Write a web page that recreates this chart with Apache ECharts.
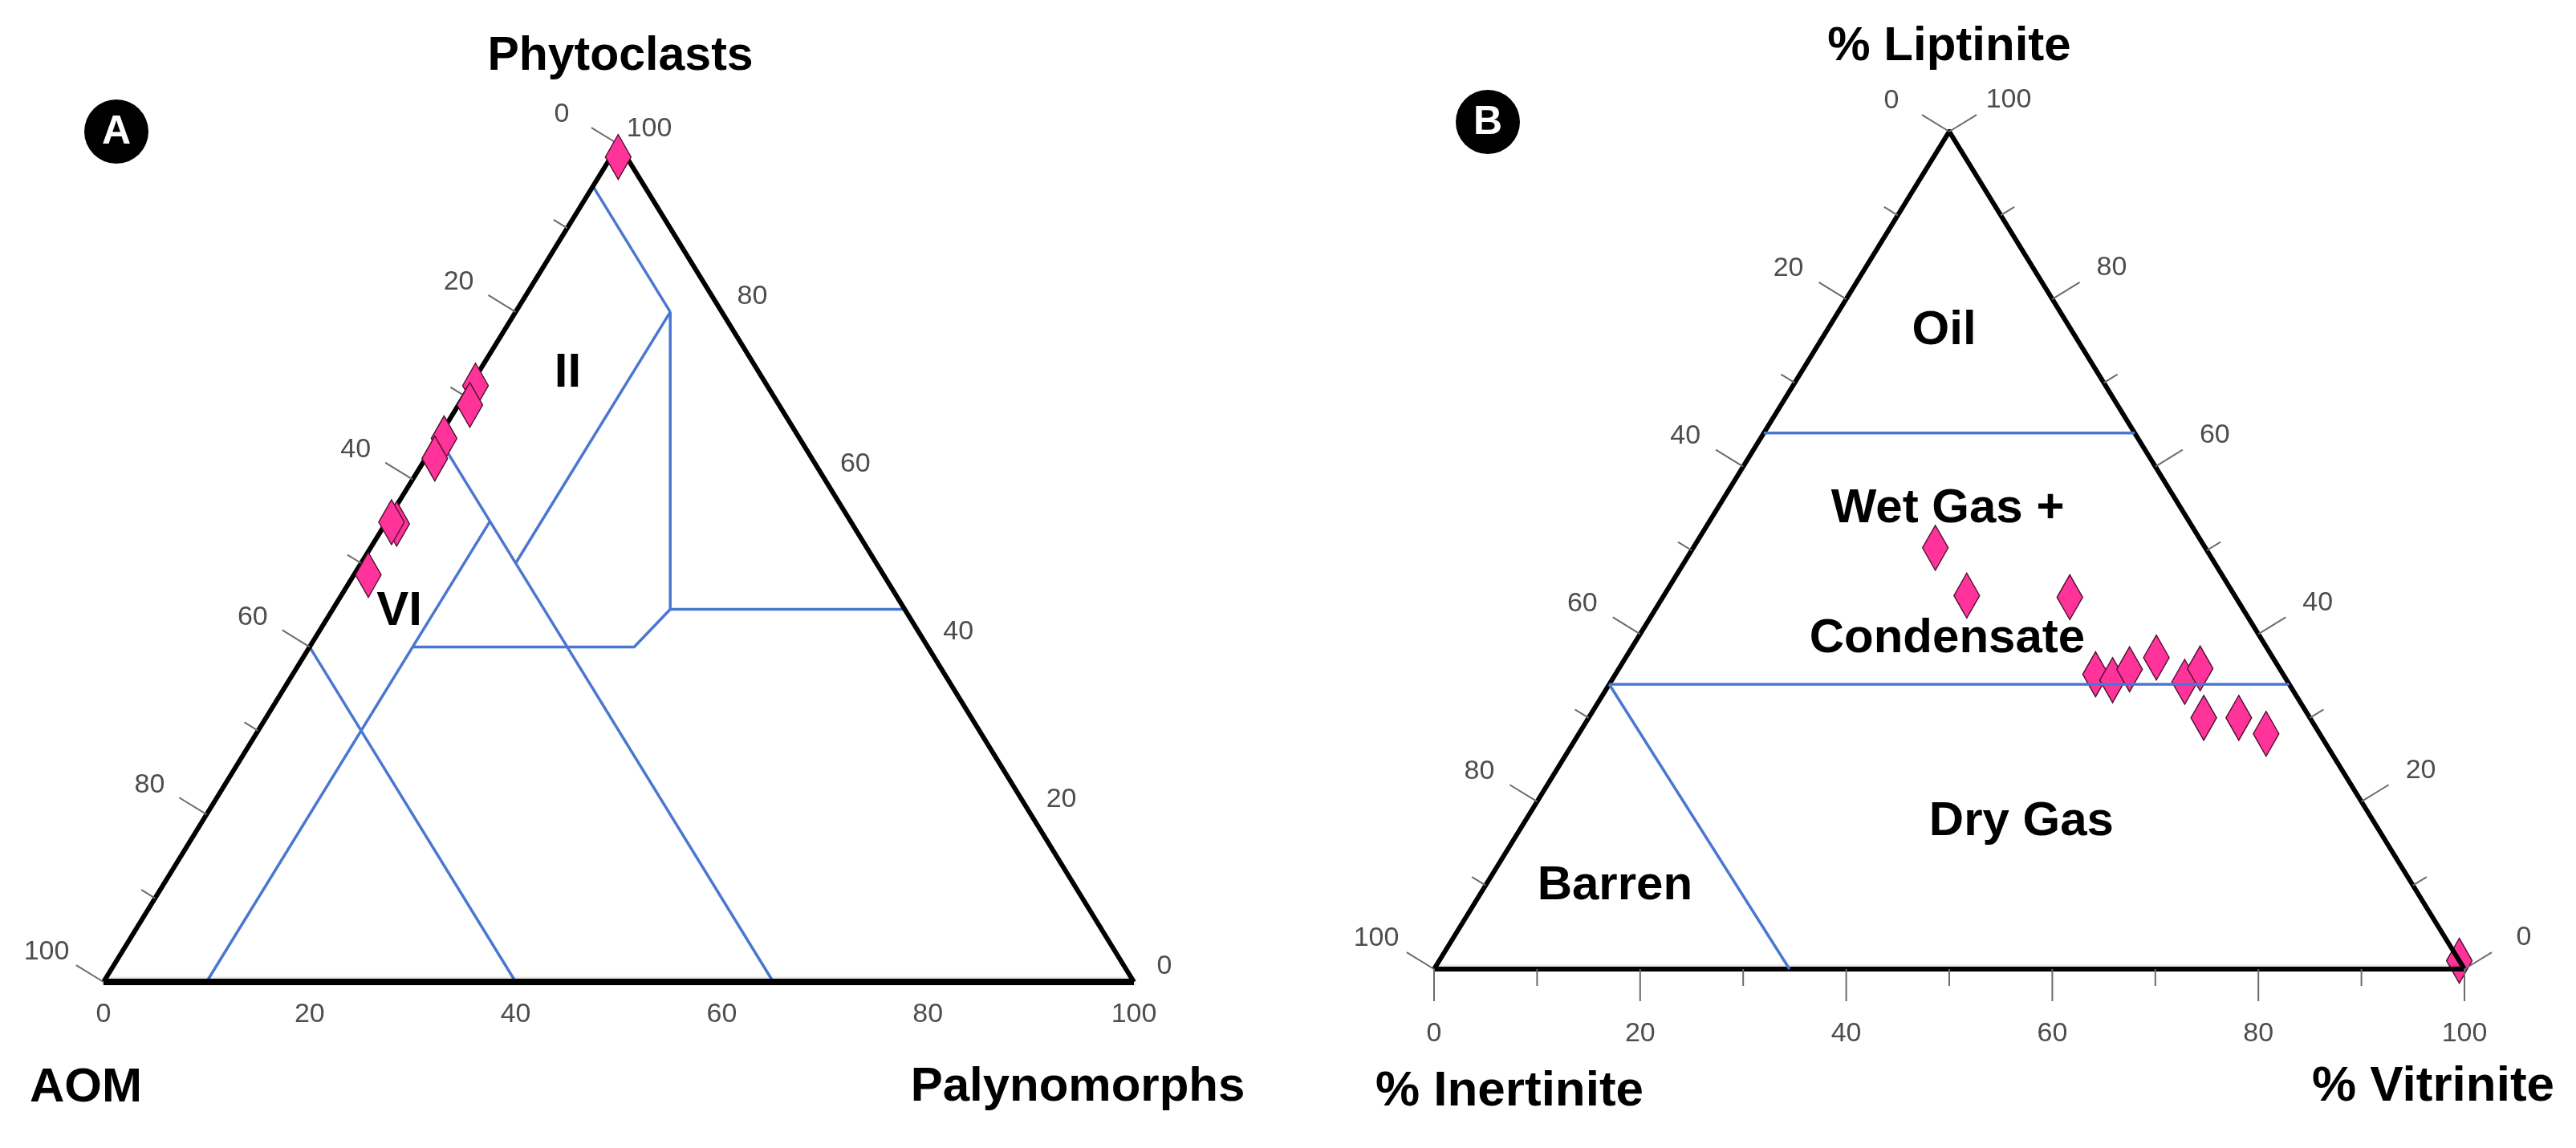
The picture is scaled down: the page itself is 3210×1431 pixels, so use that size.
<!DOCTYPE html>
<html><head><meta charset="utf-8">
<script src="https://cdn.jsdelivr.net/npm/echarts@6/dist/echarts.min.js"></script>
<style>html,body{margin:0;padding:0;background:#fff}#c{width:3210px;height:1431px}</style>
</head><body><div id="c"></div><script>
// ---------------- DATA ----------------
// Chart A : AOM (bottom-left) – Phytoclasts (apex) – Palynomorphs (bottom-right), %
const aomA          = [0.8, 28.3, 30.0, 34.5, 36.6, 44.2, 44.6, 50.0];
const phytoclastsA  = [98.5, 71.2, 68.9, 64.9, 62.5, 54.7, 54.9, 48.6];
const palynomorphsA = [0.7, 0.5, 1.1, 0.6, 0.9, 1.1, 0.5, 1.4];

// Chart B : Inertinite (bottom-left) – Liptinite (apex) – Vitrinite (bottom-right), %
const inertiniteB = [26.2, 26.0, 16.1, 18.2, 16.9, 14.6, 11.3, 10.0, 7.7, 10.3, 6.9, 5.2, 0.0];
const liptiniteB  = [50.3, 44.6, 44.4, 35.2, 34.5, 35.8, 37.2, 34.3, 35.9, 30.0, 30.0, 28.1, 1.0];
const vitriniteB  = [23.5, 29.4, 39.5, 46.6, 48.6, 49.6, 51.5, 55.7, 56.4, 59.7, 63.1, 66.7, 99.0];

// Axis ticks / labels
const majorTicks = [0, 20, 40, 60, 80, 100];
const minorTicks = [10, 30, 50, 70, 90];
const tickLabels = ['0', '20', '40', '60', '80', '100'];

// Field boundaries, chart A: polylines of [phytoclasts, palynomorphs]
const boundariesA = [
  [[95, 0], [80, 15]],
  [[80, 15], [44.5, 32.75]],
  [[44.5, 32.75], [44.5, 55.5]],
  [[44.5, 32.75], [40, 31.5], [40, 10]],
  [[80, 15], [50, 15]],
  [[0, 10], [55, 10]],
  [[65, 0], [0, 65]],
  [[40, 0], [0, 40]]
];
// Field boundaries, chart B: polylines of [liptinite, vitrinite]
const boundariesB = [
  [[64, 0], [64, 36]],
  [[34, 0], [34, 66]],
  [[34, 0], [0, 34.5]]
];

// Field names
const fieldNamesA = ['II', 'VI'];
const fieldPhytoA = [72.7, 44.2];
const fieldPalyA  = [8.7, 6.6];
const fieldNamesB = ['Oil', 'Wet Gas +', 'Condensate', 'Dry Gas', 'Barren'];
const fieldLiptB  = [76.2, 54.9, 39.4, 17.6, 9.9];
const fieldVitrB  = [11.4, 22.4, 30.1, 48.2, 12.6];

// ---------------- HELPERS ----------------
// ternary (apex %, right-corner %) -> cartesian (x % of base, y % of height)
function tern(apex, right) { return [right + apex / 2, apex]; }

const BLUE = '#4a77cf';
const PINK = '#ff3399';
const TICK = '#6b6b6b';
const LBL = '#4d4d4d';
const LBL_FONT = '34px "Liberation Sans", Arial, sans-serif';

function axisData(sides) {
  const d = [];
  sides.forEach((s, i) => {
    majorTicks.forEach(v => d.push([v, i, 1]));
    if (s.ticks) minorTicks.forEach(v => d.push([v, i, 0]));
  });
  return d;
}

function axisSeries(gridIdx, sides) {
  return {
    type: 'custom', coordinateSystem: 'cartesian2d',
    xAxisIndex: gridIdx, yAxisIndex: gridIdx, silent: true, z: 5,
    data: axisData(sides),
    renderItem: function (params, api) {
      const v = api.value(0), side = api.value(1), major = api.value(2) === 1;
      const s = sides[side];
      let p;
      if (side === 0) p = api.coord([(100 - v) / 2, 100 - v]);
      else if (side === 1) p = api.coord([100 - v / 2, v]);
      else p = api.coord([v, 0]);
      const bl = api.coord([0, 0]), ap = api.coord([50, 100]), br = api.coord([100, 0]);
      let n;
      if (side === 0) { const dx = ap[0] - bl[0], dy = ap[1] - bl[1], L = Math.hypot(dx, dy); n = [dy / L, -dx / L]; }
      else if (side === 1) { const dx = br[0] - ap[0], dy = br[1] - ap[1], L = Math.hypot(dx, dy); n = [dy / L, -dx / L]; }
      else n = [0, 1];
      const children = [];
      if (s.ticks) {
        const len = major ? s.major : s.minor;
        children.push({ type: 'line', shape: { x1: p[0], y1: p[1], x2: p[0] + n[0] * len, y2: p[1] + n[1] * len },
          style: { stroke: TICK, lineWidth: 2 } });
      }
      if (major) {
        children.push({ type: 'text', x: p[0] + s.dx, y: p[1] + s.dy,
          style: { text: tickLabels[majorTicks.indexOf(v)], font: LBL_FONT, fill: LBL,
                   align: 'center', verticalAlign: 'middle', textAlign: 'center', textVerticalAlign: 'middle' } });
      }
      return { type: 'group', children: children };
    }
  };
}

function fieldSeries(gridIdx, names, apexArr, rightArr) {
  return {
    type: 'custom', coordinateSystem: 'cartesian2d',
    xAxisIndex: gridIdx, yAxisIndex: gridIdx, silent: true, z: 6,
    data: names.map((n, i) => tern(apexArr[i], rightArr[i])),
    renderItem: function (params, api) {
      const p = api.coord([api.value(0), api.value(1)]);
      return { type: 'text', x: p[0], y: p[1],
        style: { text: names[params.dataIndex], font: 'bold 60px "Liberation Sans", Arial, sans-serif', fill: '#000',
                 align: 'center', verticalAlign: 'middle', textAlign: 'center', textVerticalAlign: 'middle' } };
    }
  };
}

function edgesSeries(gridIdx, bottomWidth) {
  return [{
    type: 'lines', coordinateSystem: 'cartesian2d', xAxisIndex: gridIdx, yAxisIndex: gridIdx,
    polyline: true, silent: true, z: 4,
    lineStyle: { color: '#000', width: 6, opacity: 1 },
    data: [{ coords: [[0, 0], [50, 100], [100, 0]] }]
  }, {
    type: 'lines', coordinateSystem: 'cartesian2d', xAxisIndex: gridIdx, yAxisIndex: gridIdx,
    polyline: true, silent: true, z: 4,
    lineStyle: { color: '#000', width: bottomWidth, opacity: 1, shadowColor: 'rgba(0,0,0,0.35)', shadowBlur: 4 },
    data: [{ coords: [[0, 0], [100, 0]] }]
  }];
}

function boundarySeries(gridIdx, bounds, z) {
  return {
    type: 'lines', coordinateSystem: 'cartesian2d', xAxisIndex: gridIdx, yAxisIndex: gridIdx,
    polyline: true, silent: true, z: z,
    lineStyle: { color: BLUE, width: 3.5, opacity: 1 },
    data: bounds.map(b => ({ coords: b.map(pt => tern(pt[0], pt[1])) }))
  };
}

// ---------------- OPTION ----------------
const chart = echarts.init(document.getElementById('c'), null, { renderer: 'canvas' });

const axisHidden = { type: 'value', min: 0, max: 100, show: false };

const sidesA = [
  { ticks: true, major: 40, minor: 20, dx: -71, dy: -37 },   // AOM (left)
  { ticks: false, dx: 38, dy: -19 },                          // Phytoclasts (right)
  { ticks: false, dx: 0, dy: 41 }                             // Palynomorphs (bottom)
];
const sidesB = [
  { ticks: true, major: 40, minor: 20, dx: -72, dy: -38 },   // Inertinite (left)
  { ticks: true, major: 40, minor: 20, dx: 74, dy: -39 },    // Liptinite (right)
  { ticks: true, major: 40, minor: 21, dx: 0, dy: 81 }       // Vitrinite (bottom)
];

const titleFont = 'bold 60px "Liberation Sans", Arial, sans-serif';
function gText(x, y, text, font, fill) {
  return { type: 'text', x: x, y: y, z: 10,
    style: { text: text, font: font, fill: fill || '#000', align: 'center', verticalAlign: 'middle',
             textAlign: 'center', textVerticalAlign: 'middle' } };
}

const option = {
  animation: false,
  backgroundColor: '#fff',
  grid: [
    { left: 129, top: 180, width: 1284, height: 1044 },
    { left: 1787, top: 164, width: 1284, height: 1044 }
  ],
  xAxis: [Object.assign({ gridIndex: 0 }, axisHidden), Object.assign({ gridIndex: 1 }, axisHidden)],
  yAxis: [Object.assign({ gridIndex: 0 }, axisHidden), Object.assign({ gridIndex: 1 }, axisHidden)],
  graphic: [
    { type: 'circle', shape: { cx: 145, cy: 164, r: 40 }, style: { fill: '#000' }, z: 10 },
    gText(145, 165, 'A', 'bold 50px "Liberation Sans", Arial, sans-serif', '#fff'),
    { type: 'circle', shape: { cx: 1854, cy: 152, r: 40 }, style: { fill: '#000' }, z: 10 },
    gText(1854, 153, 'B', 'bold 50px "Liberation Sans", Arial, sans-serif', '#fff'),
    gText(773, 71, 'Phytoclasts', 'bold 59px "Liberation Sans", Arial, sans-serif'),
    gText(107, 1356, 'AOM', titleFont),
    gText(1343, 1355, 'Palynomorphs', titleFont),
    gText(2429, 58, '% Liptinite', titleFont),
    gText(1881, 1361, '% Inertinite', 'bold 62px "Liberation Sans", Arial, sans-serif'),
    gText(3032, 1355, '% Vitrinite', 'bold 62px "Liberation Sans", Arial, sans-serif')
  ],
  series: [].concat(
    edgesSeries(0, 8),
    [boundarySeries(0, boundariesA, 3)],
    [axisSeries(0, sidesA)],
    [fieldSeries(0, fieldNamesA, fieldPhytoA, fieldPalyA)],
    [{
      type: 'scatter', xAxisIndex: 0, yAxisIndex: 0, z: 8,
      symbol: 'diamond', symbolSize: [32, 56],
      itemStyle: { color: PINK, borderColor: '#4a1030', borderWidth: 1.5, opacity: 1 },
      data: phytoclastsA.map((p, i) => tern(p, palynomorphsA[i]))
    }],
    edgesSeries(1, 6),
    [{
      type: 'scatter', xAxisIndex: 1, yAxisIndex: 1, z: 3,
      symbol: 'diamond', symbolSize: [32, 56],
      itemStyle: { color: PINK, borderColor: '#4a1030', borderWidth: 1.5, opacity: 1 },
      data: liptiniteB.map((l, i) => tern(l, vitriniteB[i]))
    }],
    [boundarySeries(1, boundariesB, 4)],
    [axisSeries(1, sidesB)],
    [fieldSeries(1, fieldNamesB, fieldLiptB, fieldVitrB)]
  )
};
chart.setOption(option);
</script></body></html>
